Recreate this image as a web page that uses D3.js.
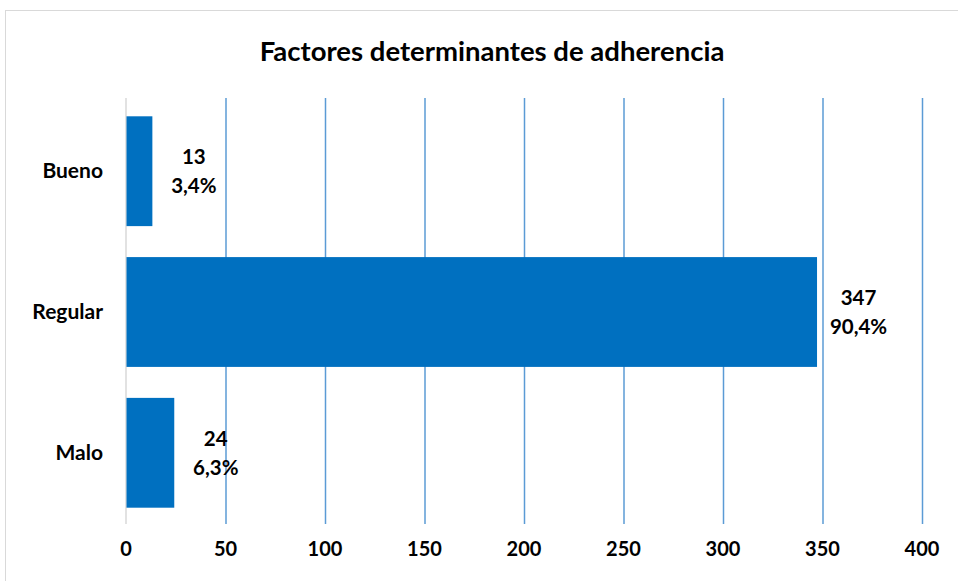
<html>
<head>
<script src="https://d3js.org/d3.v7.min.js"></script>
<style>
body {margin:0; background:white;}
text {font-family: Lato, 'Open Sans', sans-serif; font-weight: bold; fill: black;}
</style>
</head>
<body>
<div id="chart"></div>
<script>
var categories = ["Bueno", "Regular", "Malo"];
var counts = [13, 347, 24];
var percents = ["3,4%", "90,4%", "6,3%"];
var ticks = [0, 50, 100, 150, 200, 250, 300, 350, 400];

var svg = d3.select("#chart").append("svg").attr("width", 958).attr("height", 581);

// outer chart frame
svg.append("rect")
  .attr("x", 5.5).attr("y", 10.5)
  .attr("width", 970).attr("height", 600)
  .attr("fill", "white").attr("stroke", "#d9d9d9");

svg.append("text")
  .attr("x", 492).attr("y", 61)
  .attr("text-anchor", "middle")
  .style("font-size", "27.5px")
  .text("Factores determinantes de adherencia");

var x = d3.scaleLinear().domain([0, 400]).range([126, 922]);
var y = d3.scaleBand().domain(categories).range([98, 526]).paddingInner(0.22).paddingOuter(0.13);

// gridlines
svg.append("g").selectAll("line")
  .data(ticks.slice(1))
  .enter().append("line")
  .attr("x1", function(d) { return x(d) + 0.5; })
  .attr("x2", function(d) { return x(d) + 0.5; })
  .attr("y1", 98).attr("y2", 524)
  .attr("stroke", "#5b9bd5").attr("stroke-width", 1.5);

// zero axis
svg.append("line")
  .attr("x1", x(0)).attr("x2", x(0))
  .attr("y1", 98).attr("y2", 524)
  .attr("stroke", "#d9d9d9").attr("stroke-width", 1.5);

svg.append("g").selectAll("rect")
  .data(counts)
  .enter().append("rect")
  .attr("x", x(0) + 0.5)
  .attr("y", function(d, i) { return y(categories[i]); })
  .attr("width", function(d) { return x(d) - x(0); })
  .attr("height", y.bandwidth())
  .attr("fill", "#0070c0");

// value labels
var lab = svg.append("g").selectAll("text")
  .data(counts)
  .enter().append("text")
  .attr("text-anchor", "middle")
  .style("font-size", "20.5px")
  .attr("x", function(d) { return x(d) + 42; })
  .attr("y", function(d, i) { return y(categories[i]) + y.bandwidth() / 2 - 7; });
lab.append("tspan").text(function(d) { return d; });
lab.append("tspan")
  .attr("x", function(d) { return x(d) + 42; })
  .attr("dy", 29)
  .text(function(d, i) { return percents[i]; });

// category labels
svg.append("g").selectAll("text")
  .data(categories)
  .enter().append("text")
  .attr("text-anchor", "end")
  .style("font-size", "21px")
  .attr("x", 103)
  .attr("y", function(d) { return y(d) + y.bandwidth() / 2 + 7; })
  .text(function(d) { return d; });

// x tick labels
svg.append("g").selectAll("text")
  .data(ticks)
  .enter().append("text")
  .attr("text-anchor", "middle")
  .style("font-size", "20px")
  .attr("x", function(d) { return x(d); })
  .attr("y", 556)
  .text(function(d) { return d; });
</script>
</body>
</html>
